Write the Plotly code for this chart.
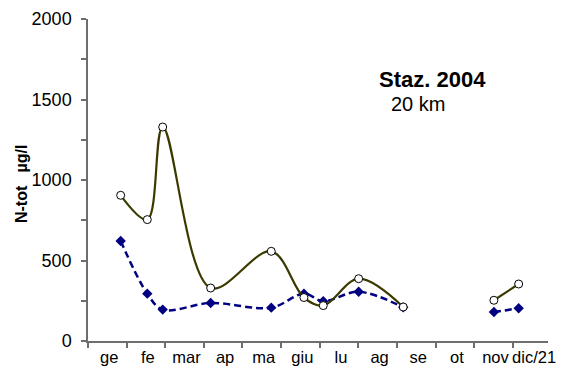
import plotly.graph_objects as go

# Sampling positions, in months from 1 January (0 = start of "ge")
sample_month = [0.846, 1.535, 1.934, 3.176, 4.745, 5.591, 6.091, 7.008, 8.162, 9.3, 10.51, 11.15]

# Total nitrogen (µg/l); October not sampled
n_tot = [905, 754, 1329, 329, 557, 270, 220, 387, 211, None, 253, 354]
# Second nitrogen series (µg/l)
n_second = [621, 294, 195, 236, 207, 294, 247, 306, 209, None, 180, 203]

month_labels = ["ge", "fe", "mar", "ap", "ma", "giu", "lu", "ag", "se", "ot", "nov", "dic/21"]
y_ticks = [0, 500, 1000, 1500, 2000]

FONT = "Liberation Sans, Arial, sans-serif"

fig = go.Figure()

fig.add_trace(go.Scatter(
    x=sample_month, y=n_second, name="N 2",
    mode="lines+markers",
    line=dict(color="#000080", width=2.5, dash="7px,4px", shape="spline", smoothing=1),
    marker=dict(symbol="diamond", size=8, color="#000080"),
    connectgaps=False,
))

fig.add_trace(go.Scatter(
    x=sample_month, y=n_tot, name="N-tot",
    mode="lines+markers",
    line=dict(color="#3a3a00", width=2.2, shape="spline", smoothing=1),
    marker=dict(symbol="circle", size=8, color="white", line=dict(color="black", width=1)),
    connectgaps=False,
))

fig.update_layout(
    width=572, height=370,
    margin=dict(l=88, r=24, t=19, b=29),
    paper_bgcolor="white", plot_bgcolor="white",
    showlegend=False,
    font=dict(family=FONT, color="black"),
    xaxis=dict(
        range=[0, 11.91],
        tickmode="array",
        tickvals=[i + 0.55 for i in range(len(month_labels))],
        ticktext=month_labels,
        ticks="",
        tickangle=0,
        tickfont=dict(size=16.5),
        ticklabelstandoff=0,
        automargin=False,
        showgrid=False, zeroline=False,
        showline=True, linecolor="#6e6e6e", linewidth=1.5,
        minor=dict(tickmode="array", tickvals=list(range(0, 12)),
                   ticks="outside", ticklen=5, tickcolor="#6e6e6e", tickwidth=1.5,
                   showgrid=False),
        fixedrange=True,
    ),
    yaxis=dict(
        range=[0, 2000],
        tickmode="array", tickvals=y_ticks,
        ticks="outside", ticklen=5, tickcolor="#6e6e6e", tickwidth=1.5,
        tickfont=dict(size=18),
        ticklabelstandoff=6,
        automargin=False,
        showgrid=False, zeroline=False,
        showline=True, linecolor="#6e6e6e", linewidth=1.5,
        minor=dict(dtick=250, ticks="outside", ticklen=5, tickcolor="#6e6e6e",
                   tickwidth=1.5, showgrid=False),
        fixedrange=True,
    ),
    annotations=[
        dict(text="<b>N-tot   µg/l</b>", xref="paper", yref="paper",
             x=-0.146, y=0.49, textangle=-90, showarrow=False,
             font=dict(size=16), xanchor="center", yanchor="middle"),
        dict(text="<b>Staz. 2004</b>", xref="paper", yref="paper",
             x=0.628, y=0.813, showarrow=False, font=dict(size=22),
             xanchor="left", yanchor="middle"),
        dict(text="20 km", xref="paper", yref="paper",
             x=0.655, y=0.735, showarrow=False, font=dict(size=20),
             xanchor="left", yanchor="middle"),
    ],
)

fig.write_html("out.html")
